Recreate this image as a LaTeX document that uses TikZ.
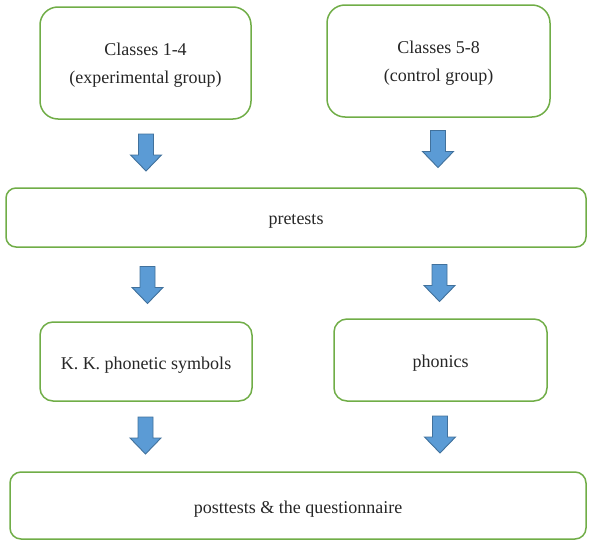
\documentclass[tikz,border=0pt]{standalone}
\usepackage{fontspec}
\setmainfont{Liberation Serif}
\definecolor{boxgreen}{HTML}{70AD47}
\definecolor{textgray}{HTML}{262626}
\definecolor{arrowfill}{HTML}{5B9BD5}
\definecolor{arrowdraw}{HTML}{41719C}
\begin{document}
\begin{tikzpicture}[x=1pt,y=-1pt,
  box/.style={draw=boxgreen, line width=1.5pt, rounded corners=#1, inner sep=0pt},
  box/.default=12pt,
  boxtext/.style={inner sep=0pt, text=textgray, font=\fontsize{18}{28}\selectfont, align=center},
  arrowstyle/.style={fill=arrowfill, draw=arrowdraw, line width=0.9pt, line join=miter},
  pics/downarrow/.style={code={
    \draw[arrowstyle] (-7.5,0) -- (7.5,0) -- (7.5,21) -- (15.5,21) -- (0,37)
      -- (-15.5,21) -- (-7.5,21) -- cycle;}}]
\useasboundingbox (0,0) rectangle (593,546);
\node[box=18pt, minimum width=211pt, minimum height=112pt] (c14) at (145.5,63) {};
\node[box=18pt, minimum width=223pt, minimum height=112pt] (c58) at (438.5,61) {};
\node[box=10pt, minimum width=580pt, minimum height=59pt] (pre) at (296,217.5) {};
\node[box=13pt, minimum width=212pt, minimum height=79pt] (kk) at (146,361.5) {};
\node[box=13pt, minimum width=213pt, minimum height=82pt] (ph) at (440.5,360) {};
\node[box=11pt, minimum width=576pt, minimum height=67pt] (post) at (298,505.5) {};
\node[boxtext] (t14) at ([yshift=-2pt]c14.center) {Classes 1-4\\(experimental group)};
\node[boxtext] (t58) at ([yshift=-2pt]c58.center) {Classes 5-8\\(control group)};
\node[boxtext] (tpre) at ([yshift=-3.5pt]pre.center) {pretests};
\node[boxtext] (tkk) at ([yshift=-3.5pt]kk.center) {K. K. phonetic symbols};
\node[boxtext] (tph) at ([yshift=-3.5pt]ph.center) {phonics};
\node[boxtext] (tpost) at ([yshift=-3.5pt]post.center) {posttests \& the questionnaire};
\pic (a1) at (146,134) {downarrow};
\pic (a2) at (438,130.5) {downarrow};
\pic (a3) at (147.5,266.5) {downarrow};
\pic (a4) at (439.5,264.5) {downarrow};
\pic (a5) at (145.5,417) {downarrow};
\pic (a6) at (440,416) {downarrow};
\end{tikzpicture}
\end{document}
